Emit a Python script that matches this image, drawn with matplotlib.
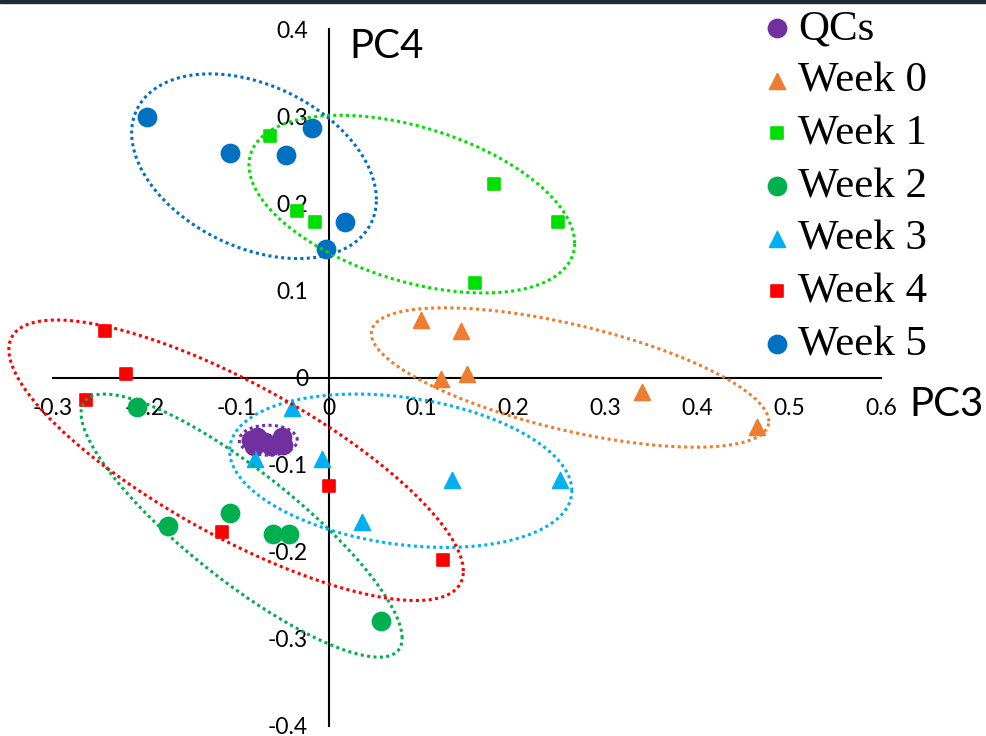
import numpy as np
import matplotlib
matplotlib.use("Agg")
import matplotlib.pyplot as plt
from matplotlib.markers import MarkerStyle
from matplotlib.patches import Rectangle

# series (PC3, PC4 scores)
labels = ['QCs', 'Week 0', 'Week 1', 'Week 2', 'Week 3', 'Week 4', 'Week 5']

qc_x = [-0.085, -0.078, -0.082, -0.070, -0.063, -0.051, -0.050]
qc_y = [-0.072, -0.068, -0.079, -0.074, -0.079, -0.068, -0.077]
w0_x = [0.100, 0.143, 0.122, 0.150, 0.340, 0.465]
w0_y = [0.066, 0.053, -0.002, 0.004, -0.017, -0.057]
w1_x = [-0.064, -0.035, -0.015, 0.179, 0.249, 0.159]
w1_y = [0.277, 0.191, 0.178, 0.222, 0.178, 0.108]
w2_x = [-0.209, -0.175, -0.108, -0.061, -0.044, 0.057]
w2_y = [-0.034, -0.170, -0.156, -0.180, -0.180, -0.280]
w3_x = [-0.040, -0.080, -0.008, 0.036, 0.134, 0.251]
w3_y = [-0.035, -0.093, -0.093, -0.166, -0.118, -0.118]
w4_x = [-0.244, -0.221, -0.264, 0.000, -0.116, 0.124]
w4_y = [0.053, 0.004, -0.026, -0.125, -0.177, -0.210]
w5_x = [-0.198, -0.108, -0.047, -0.018, 0.017, -0.003]
w5_y = [0.299, 0.258, 0.255, 0.286, 0.179, 0.148]

# confidence ellipses: centre, half extents along x / y, correlation
ell_cx = [-0.066, 0.262, 0.090, -0.095, 0.078, -0.101, -0.0815]
ell_cy = [-0.072, 0.000, 0.199, -0.170, -0.107, -0.095, 0.2425]
ell_hx = [0.0315, 0.216, 0.177, 0.1745, 0.186, 0.247, 0.133]
ell_hy = [0.0172, 0.080, 0.102, 0.151, 0.088, 0.161, 0.106]
ell_r = [0.0, -0.63, -0.44, -0.855, -0.26, -0.79, -0.36]

xs = [qc_x, w0_x, w1_x, w2_x, w3_x, w4_x, w5_x]
ys = [qc_y, w0_y, w1_y, w2_y, w3_y, w4_y, w5_y]
colors = ['#7030A0', '#ED7D31', '#00E000', '#00B050', '#00B0F0', '#FF0000', '#0070C0']
markers = ['o', '^', 's', 'o', '^', 's', 'o']
sizes = {'o': 170, '^': 130, 's': 85}

fig = plt.figure(figsize=(9.86, 7.36), dpi=100)
ax = fig.add_axes([53 / 986, 10 / 736, 828 / 986, 697 / 736])
ax.set_xlim(-0.3, 0.6)
ax.set_ylim(-0.4, 0.4)

handles = []
for x, y, c, m, lab in zip(xs, ys, colors, markers, labels):
    h = ax.scatter(x, y, s=sizes[m], c=c, edgecolors=c, linewidths=1.2,
                   marker=MarkerStyle(m, joinstyle='round'), zorder=3, label=lab)
    handles.append(h)

t = np.linspace(0, 2 * np.pi, 500)
for cx, cy, hx, hy, r, c in zip(ell_cx, ell_cy, ell_hx, ell_hy, ell_r, colors):
    ex = cx + hx * np.cos(t)
    ey = cy + hy * (r * np.cos(t) + np.sqrt(1 - r ** 2) * np.sin(t))
    ax.plot(ex, ey, color=c, lw=2.2, ls=(0, (1, 1.1)), clip_on=False, zorder=4)

# axes crossing at origin
for side in ['left', 'bottom']:
    ax.spines[side].set_position(('data', 0))
    ax.spines[side].set_linewidth(1.5)
    ax.spines[side].set_zorder(2)
for side in ['right', 'top']:
    ax.spines[side].set_visible(False)

ax.set_xticks(np.arange(-0.3, 0.61, 0.1))
ax.set_yticks(np.arange(-0.4, 0.41, 0.1))
ax.set_xticklabels(['-0.3', '-0.2', '-0.1', '0', '0.1', '0.2', '0.3', '0.4', '0.5', '0.6'])
ax.set_yticklabels(['-0.4', '-0.3', '-0.2', '-0.1', '0', '0.1', '0.2', '0.3', '0.4'])
ax.tick_params(length=0, labelsize=16.5, pad=15)
for lbl in ax.get_xticklabels() + ax.get_yticklabels():
    lbl.set_family('Lato')

ax.text(0.022, 0.38, 'PC4', fontsize=29, family='Lato', va='center', ha='left')
fig.text(909 / 986, 1 - 405 / 736, 'PC3', fontsize=29, family='Lato', va='center', ha='left')

leg = fig.legend(handles=handles, loc='upper left', bbox_to_anchor=(743 / 986, 1.017),
                 frameon=False, prop={'family': 'Liberation Serif', 'size': 31},
                 handlelength=0.56, handletextpad=0.22, labelspacing=0.315,
                 borderpad=0.0, scatterpoints=1)

# dark rule along the top edge
fig.patches.append(Rectangle((0, 1 - 3 / 736), 1, 3 / 736, transform=fig.transFigure,
                             color='#1F2A36', zorder=10))

fig.savefig('out.png', dpi=100)
